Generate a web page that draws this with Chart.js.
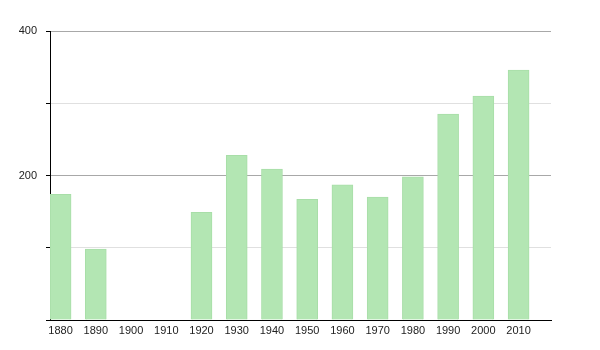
<!DOCTYPE html>
<html>
<head>
<meta charset="utf-8">
<script src="https://cdn.jsdelivr.net/npm/chart.js@4/dist/chart.umd.min.js"></script>
<style>
  html, body { margin: 0; padding: 0; background: #fff; }
  #wrap { width: 600px; height: 350px; }
</style>
</head>
<body>
<div id="wrap"><canvas id="popChart"></canvas></div>
<script>
// Population by census year
const years = [1880, 1890, 1900, 1910, 1920, 1930, 1940, 1950, 1960, 1970, 1980, 1990, 2000, 2010];
const population = [174, 98, 0, 0, 149, 228, 209, 167, 187, 170, 198, 285, 310, 346];
const yLabelValues = [200, 400];

const points = years.map((y, i) => ({ x: y, y: population[i] }));

new Chart(document.getElementById("popChart"), {
  type: "bar",
  data: {
    datasets: [
      {
        data: points,
        backgroundColor: "#b3e6b3",
        borderColor: "#a8dea8",
        borderWidth: 1,
        barThickness: 21,
      },
    ],
  },
  options: {
    responsive: true,
    maintainAspectRatio: false,
    animation: false,
    layout: {
      padding: { left: 0, right: 49, top: 31, bottom: 10 },
    },
    plugins: {
      legend: { display: false },
      tooltip: { enabled: false },
    },
    scales: {
      x: {
        type: "linear",
        min: 1877,
        max: 2019.2,
        offset: false,
        afterFit: s => { s.height = 20; },
        grid: { display: false, drawTicks: false },
        border: { display: true, color: "#000", width: 1 },
        ticks: {
          stepSize: 10,
          includeBounds: false,
          padding: 4,
          color: "#222",
          font: { family: "Liberation Sans, Arial", size: 11 },
          callback: v => String(v),
        },
      },
      y: {
        min: 0,
        max: 400,
        afterFit: s => { s.width = 50; },
        border: { display: true, color: "#000", width: 1 },
        grid: {
          color: ctx => {
            const v = ctx.tick ? ctx.tick.value : 0;
            if (v === 0) return "rgba(0,0,0,0)";
            return v % 200 === 0 ? "#a8a8a8" : "#e0e0e0";
          },
          tickColor: "#000",
          tickLength: 4,
        },
        ticks: {
          stepSize: 100,
          padding: 9,
          color: "#222",
          font: { family: "Liberation Sans, Arial", size: 11 },
          callback: v => (yLabelValues.includes(v) ? String(v) : ""),
        },
      },
    },
  },
});
</script>
</body>
</html>
